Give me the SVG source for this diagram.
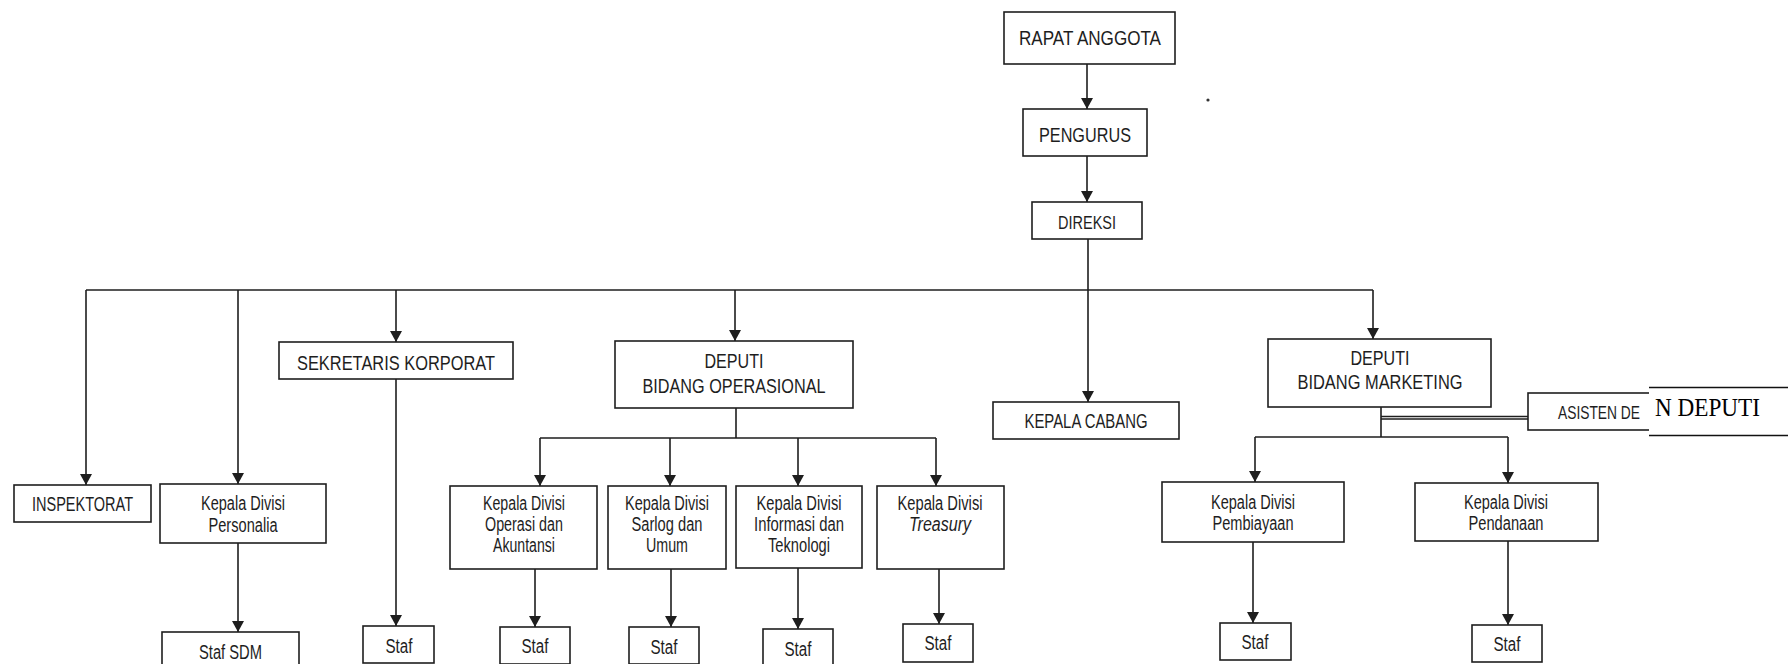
<svg xmlns="http://www.w3.org/2000/svg" width="1788" height="664" viewBox="0 0 1788 664">
<style>
.b{fill:#fff;stroke:#1e1e1e;stroke-width:1.6}
.t{font-family:"Liberation Sans",Arial,sans-serif;font-size:19.5px;fill:#1e1e1e;text-anchor:middle}
.c{fill:none;stroke:#1e1e1e;stroke-width:1.6}
.a{marker-end:url(#ah)}
</style>
<defs>
<marker id="ah" viewBox="0 0 11 12" refX="11" refY="6" markerWidth="11" markerHeight="12" markerUnits="userSpaceOnUse" orient="auto">
<path d="M0,0 L11,6 L0,12 z" fill="#1e1e1e"/>
</marker>
</defs>
<rect width="1788" height="664" fill="#fff"/>
<g id="connectors">
<path class="c a" d="M1087,64 V109"/>
<path class="c a" d="M1087,156 V202"/>
<path class="c a" d="M1088,239 V402"/>
<path class="c" d="M86,290 H1373"/>
<path class="c a" d="M86,290 V485"/>
<path class="c a" d="M238,290 V484"/>
<path class="c a" d="M396,290 V342"/>
<path class="c a" d="M735,290 V341"/>
<path class="c a" d="M1373,290 V339"/>
<path class="c a" d="M238,543 V632"/>
<path class="c a" d="M396,379 V626"/>
<path class="c" d="M736,408 V438 M540,438 H936"/>
<path class="c a" d="M540,438 V486"/>
<path class="c a" d="M670,438 V486"/>
<path class="c a" d="M798,438 V486"/>
<path class="c a" d="M936,438 V486"/>
<path class="c a" d="M535,569 V627"/>
<path class="c a" d="M671,569 V627"/>
<path class="c a" d="M798,568 V629"/>
<path class="c a" d="M939,569 V624"/>
<path class="c" d="M1381,407 V437 M1255,437 H1508"/>
<path class="c" d="M1381,416.5 H1528 M1381,419 H1528" style="stroke-width:1.3"/>
<path class="c a" d="M1255,437 V482"/>
<path class="c a" d="M1508,437 V483"/>
<path class="c a" d="M1253,542 V623"/>
<path class="c a" d="M1508,541 V625"/>
</g>
<circle cx="1208" cy="100" r="1.6" fill="#333"/>
<g id="rapat-anggota"><rect class="b" x="1004" y="12" width="171" height="52"/><text class="t" x="1090" y="45" textLength="142" lengthAdjust="spacingAndGlyphs">RAPAT ANGGOTA</text></g>
<g id="pengurus"><rect class="b" x="1023" y="109" width="124" height="47"/><text class="t" x="1085" y="142" textLength="92" lengthAdjust="spacingAndGlyphs">PENGURUS</text></g>
<g id="direksi"><rect class="b" x="1032" y="202" width="110" height="37"/><text class="t" x="1087" y="229" style="font-size:18.5px" textLength="58" lengthAdjust="spacingAndGlyphs">DIREKSI</text></g>
<g id="inspektorat"><rect class="b" x="14" y="485" width="137" height="37"/><text class="t" x="82.5" y="510.5" textLength="101" lengthAdjust="spacingAndGlyphs">INSPEKTORAT</text></g>
<g id="kadiv-personalia"><rect class="b" x="160" y="484" width="166" height="59"/><text class="t" x="243" y="509.5" textLength="84" lengthAdjust="spacingAndGlyphs">Kepala Divisi</text><text class="t" x="243" y="531.5" textLength="69" lengthAdjust="spacingAndGlyphs">Personalia</text></g>
<g id="staf-sdm"><rect class="b" x="162" y="632" width="137" height="40"/><text class="t" x="230.5" y="658.5" textLength="63" lengthAdjust="spacingAndGlyphs">Staf SDM</text></g>
<g id="sekretaris"><rect class="b" x="279" y="342" width="234" height="37"/><text class="t" x="396" y="370" textLength="198" lengthAdjust="spacingAndGlyphs">SEKRETARIS KORPORAT</text></g>
<g id="staf-sek"><rect class="b" x="363" y="626" width="71" height="37"/><text class="t" x="399" y="652.5" textLength="27" lengthAdjust="spacingAndGlyphs">Staf</text></g>
<g id="deputi-operasional"><rect class="b" x="615" y="341" width="238" height="67"/><text class="t" x="734" y="368" textLength="59" lengthAdjust="spacingAndGlyphs">DEPUTI</text><text class="t" x="734" y="392.5" textLength="183" lengthAdjust="spacingAndGlyphs">BIDANG OPERASIONAL</text></g>
<g id="kadiv-operasi"><rect class="b" x="450" y="486" width="147" height="83"/><text class="t" x="524" y="509.5" textLength="82" lengthAdjust="spacingAndGlyphs">Kepala Divisi</text><text class="t" x="524" y="530.5" textLength="78" lengthAdjust="spacingAndGlyphs">Operasi dan</text><text class="t" x="524" y="551.5" textLength="62" lengthAdjust="spacingAndGlyphs">Akuntansi</text></g>
<g id="kadiv-sarlog"><rect class="b" x="608" y="486" width="118" height="83"/><text class="t" x="667" y="509.5" textLength="84" lengthAdjust="spacingAndGlyphs">Kepala Divisi</text><text class="t" x="667" y="530.5" textLength="71" lengthAdjust="spacingAndGlyphs">Sarlog dan</text><text class="t" x="667" y="551.5" textLength="42" lengthAdjust="spacingAndGlyphs">Umum</text></g>
<g id="kadiv-informasi"><rect class="b" x="736" y="486" width="126" height="82"/><text class="t" x="799" y="509.5" textLength="85" lengthAdjust="spacingAndGlyphs">Kepala Divisi</text><text class="t" x="799" y="530.5" textLength="90" lengthAdjust="spacingAndGlyphs">Informasi dan</text><text class="t" x="799" y="551.5" textLength="62" lengthAdjust="spacingAndGlyphs">Teknologi</text></g>
<g id="kadiv-treasury"><rect class="b" x="877" y="486" width="127" height="83"/><text class="t" x="940" y="509.5" textLength="85" lengthAdjust="spacingAndGlyphs">Kepala Divisi</text><text class="t" x="940" y="530.5" style="font-style:italic" textLength="62" lengthAdjust="spacingAndGlyphs">Treasury</text></g>
<g id="staf-operasi"><rect class="b" x="500" y="627" width="70" height="37"/><text class="t" x="535" y="652.5" textLength="27" lengthAdjust="spacingAndGlyphs">Staf</text></g>
<g id="staf-sarlog"><rect class="b" x="629" y="627" width="70" height="37"/><text class="t" x="664" y="653.5" textLength="27" lengthAdjust="spacingAndGlyphs">Staf</text></g>
<g id="staf-informasi"><rect class="b" x="763" y="629" width="70" height="37"/><text class="t" x="798" y="655.5" textLength="27" lengthAdjust="spacingAndGlyphs">Staf</text></g>
<g id="staf-treasury"><rect class="b" x="903" y="624" width="70" height="38"/><text class="t" x="938" y="649.5" textLength="27" lengthAdjust="spacingAndGlyphs">Staf</text></g>
<g id="kepala-cabang"><rect class="b" x="993" y="402" width="186" height="37"/><text class="t" x="1086" y="427.5" textLength="123" lengthAdjust="spacingAndGlyphs">KEPALA CABANG</text></g>
<g id="deputi-marketing"><rect class="b" x="1268" y="339" width="223" height="68"/><text class="t" x="1380" y="365" textLength="59" lengthAdjust="spacingAndGlyphs">DEPUTI</text><text class="t" x="1380" y="388.5" textLength="165" lengthAdjust="spacingAndGlyphs">BIDANG MARKETING</text></g>
<g id="asisten-deputi"><rect class="b" x="1528" y="393" width="180" height="37"/><text class="t" x="1558" y="418.5" style="text-anchor:start;font-size:18px" textLength="82" lengthAdjust="spacingAndGlyphs">ASISTEN DE</text>
<rect x="1649" y="387" width="145" height="49" fill="#fff"/><path d="M1649,387.5 H1788 M1649,435.5 H1788" stroke="#111" stroke-width="1.5"/>
<text x="1655" y="416" style="font-family:'Liberation Serif','Times New Roman',serif;font-size:25px;fill:#000" textLength="105" lengthAdjust="spacingAndGlyphs">N DEPUTI</text></g>
<g id="kadiv-pembiayaan"><rect class="b" x="1162" y="482" width="182" height="60"/><text class="t" x="1253" y="508.5" textLength="84" lengthAdjust="spacingAndGlyphs">Kepala Divisi</text><text class="t" x="1253" y="529.5" textLength="81" lengthAdjust="spacingAndGlyphs">Pembiayaan</text></g>
<g id="kadiv-pendanaan"><rect class="b" x="1415" y="483" width="183" height="58"/><text class="t" x="1506" y="508.5" textLength="84" lengthAdjust="spacingAndGlyphs">Kepala Divisi</text><text class="t" x="1506" y="529.5" textLength="75" lengthAdjust="spacingAndGlyphs">Pendanaan</text></g>
<g id="staf-pembiayaan"><rect class="b" x="1220" y="623" width="71" height="37"/><text class="t" x="1255" y="648.5" textLength="27" lengthAdjust="spacingAndGlyphs">Staf</text></g>
<g id="staf-pendanaan"><rect class="b" x="1472" y="625" width="70" height="37"/><text class="t" x="1507" y="650.5" textLength="27" lengthAdjust="spacingAndGlyphs">Staf</text></g>
</svg>
